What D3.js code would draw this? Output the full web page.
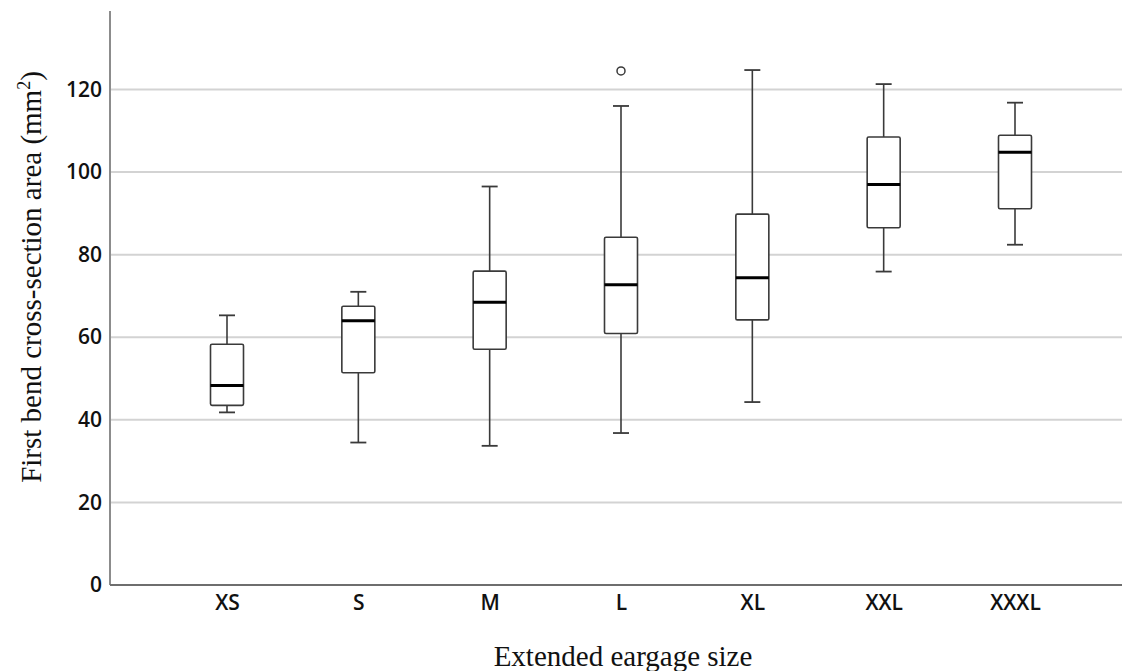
<!DOCTYPE html>
<html>
<head>
<meta charset="utf-8">
<script src="https://cdn.jsdelivr.net/npm/d3@7"></script>
<style>
  body { margin: 0; background: #fff; }
  #chart { width: 1122px; height: 671px; }
</style>
</head>
<body>
<div id="chart"></div>
<script>
// values
const categories = ['XS', 'S', 'M', 'L', 'XL', 'XXL', 'XXXL'];
const whiskerLow  = [41.8, 34.5, 33.7, 36.8, 44.3, 75.9, 82.4];
const q1          = [43.5, 51.4, 57.1, 60.9, 64.2, 86.5, 91.1];
const median      = [48.3, 64.0, 68.5, 72.7, 74.4, 97.0, 104.8];
const q3          = [58.3, 67.5, 76.0, 84.2, 89.8, 108.5, 108.9];
const whiskerHigh = [65.3, 71.0, 96.5, 116.0, 124.7, 121.3, 116.8];
const outlierCats = ['L'];
const outlierVals = [124.5];
const yTicks = [0, 20, 40, 60, 80, 100, 120];

const boxes = categories.map((c, i) => ({
    cat: c, lo: whiskerLow[i], q1: q1[i], med: median[i], q3: q3[i], hi: whiskerHigh[i]
}));
const outliers = outlierCats.map((c, i) => ({ cat: c, value: outlierVals[i] }));

const width = 1122, height = 671;
const plot = { left: 110, right: 1122, top: 11, bottom: 585 };
const boxW = 33, capW = 16;

const svg = d3.select('#chart')
    .append('svg')
        .attr('width', width)
        .attr('height', height);

//SCALES
const x = d3.scalePoint()
    .domain(categories)
    .range([227, 1015]);

const y = d3.scaleLinear()
    .domain([0, 139])
    .range([plot.bottom, plot.top]);

//GRID
svg.append('g')
    .selectAll('line')
    .data(yTicks.filter(t => t > 0))
    .join('line')
        .attr('x1', plot.left)
        .attr('x2', plot.right)
        .attr('y1', d => y(d))
        .attr('y2', d => y(d))
        .attr('stroke', '#d3d3d3')
        .attr('stroke-width', 2);

//Y AXIS
const yAxisG = svg.append('g')
    .attr('transform', `translate(${plot.left},0)`)
    .call(d3.axisLeft(y).tickValues(yTicks).tickSize(0).tickPadding(8));
yAxisG.select('.domain').remove();
yAxisG.selectAll('text')
    .attr('font-family', '"Open Sans", sans-serif')
    .attr('font-weight', 600)
    .attr('font-size', 21)
    .attr('fill', '#111');

svg.append('line')
    .attr('x1', plot.left).attr('x2', plot.left)
    .attr('y1', plot.top).attr('y2', plot.bottom)
    .attr('stroke', '#8c8c8c')
    .attr('stroke-width', 2);

//X AXIS
const xAxisG = svg.append('g')
    .attr('transform', `translate(0,${plot.bottom})`)
    .call(d3.axisBottom(x).tickSize(0).tickPadding(10));
xAxisG.select('.domain').remove();
xAxisG.selectAll('text')
    .attr('font-family', '"Open Sans", sans-serif')
    .attr('font-weight', 600)
    .attr('font-size', 21)
    .attr('fill', '#111');

svg.append('line')
    .attr('x1', plot.left).attr('x2', plot.right)
    .attr('y1', plot.bottom).attr('y2', plot.bottom)
    .attr('stroke', '#6e6e6e')
    .attr('stroke-width', 2);

//BOXES
const boxG = svg.append('g')
    .selectAll('g')
    .data(boxes)
    .join('g')
        .attr('transform', d => `translate(${x(d.cat)},0)`);

const stroke = '#3a3a3a';

// whiskers
boxG.append('line')
    .attr('x1', 0).attr('x2', 0)
    .attr('y1', d => y(d.hi)).attr('y2', d => y(d.q3))
    .attr('stroke', stroke).attr('stroke-width', 1.6);
boxG.append('line')
    .attr('x1', 0).attr('x2', 0)
    .attr('y1', d => y(d.q1)).attr('y2', d => y(d.lo))
    .attr('stroke', stroke).attr('stroke-width', 1.6);

// caps
boxG.append('line')
    .attr('x1', -capW / 2).attr('x2', capW / 2)
    .attr('y1', d => y(d.hi)).attr('y2', d => y(d.hi))
    .attr('stroke', stroke).attr('stroke-width', 1.8);
boxG.append('line')
    .attr('x1', -capW / 2).attr('x2', capW / 2)
    .attr('y1', d => y(d.lo)).attr('y2', d => y(d.lo))
    .attr('stroke', stroke).attr('stroke-width', 1.8);

// box
boxG.append('rect')
    .attr('x', -boxW / 2)
    .attr('width', boxW)
    .attr('y', d => y(d.q3))
    .attr('height', d => y(d.q1) - y(d.q3))
    .attr('rx', 1.5)
    .attr('fill', '#fff')
    .attr('stroke', stroke)
    .attr('stroke-width', 1.6);

// median
boxG.append('line')
    .attr('x1', -boxW / 2).attr('x2', boxW / 2)
    .attr('y1', d => y(d.med)).attr('y2', d => y(d.med))
    .attr('stroke', '#000').attr('stroke-width', 3);

//OUTLIERS
svg.append('g')
    .selectAll('circle')
    .data(outliers)
    .join('circle')
        .attr('cx', d => x(d.cat))
        .attr('cy', d => y(d.value))
        .attr('r', 4)
        .attr('fill', 'none')
        .attr('stroke', stroke)
        .attr('stroke-width', 1.5);

//AXIS TITLES
svg.append('text')
    .attr('x', 623)
    .attr('y', 666)
    .attr('text-anchor', 'middle')
    .attr('font-family', '"Liberation Serif", "Times New Roman", serif')
    .attr('font-size', 29)
    .attr('fill', '#111')
    .text('Extended eargage size');

const yTitle = svg.append('text')
    .attr('transform', 'translate(41,277) rotate(-90)')
    .attr('text-anchor', 'middle')
    .attr('font-family', '"Liberation Serif", "Times New Roman", serif')
    .attr('font-size', 29)
    .attr('fill', '#111');
yTitle.append('tspan').text('First bend cross-section area (mm');
yTitle.append('tspan').attr('font-size', 18).attr('dy', -11).text('2');
yTitle.append('tspan').attr('dy', 11).text(')');
</script>
</body>
</html>
